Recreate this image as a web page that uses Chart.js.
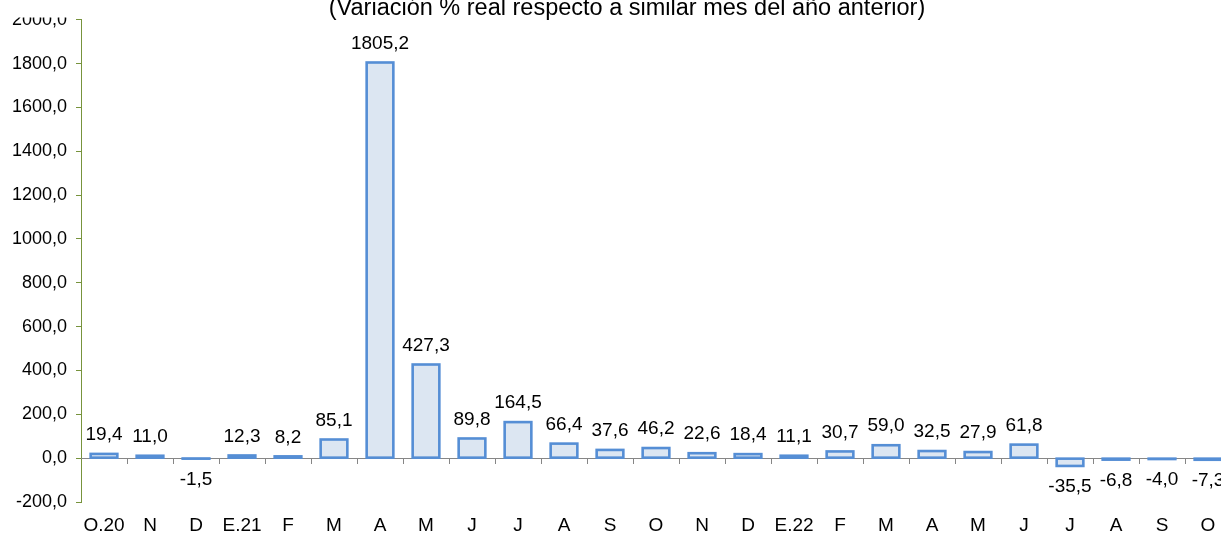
<!DOCTYPE html>
<html>
<head>
<meta charset="utf-8">
<script src="https://cdn.jsdelivr.net/npm/chart.js@4.4.1/dist/chart.umd.min.js"></script>
<style>
html,body{margin:0;padding:0;background:#fff;overflow:hidden;width:1221px;height:533px;}
#wrap{position:absolute;left:0;top:0;width:1240px;height:533px;}
</style>
</head>
<body>
<div id="wrap"><canvas id="c"></canvas></div>
<script>
const titleText = "(Variación % real respecto a similar mes del año anterior)";
const categories = ["O.20","N","D","E.21","F","M","A","M","J","J","A","S","O","N","D","E.22","F","M","A","M","J","J","A","S","O"];
const values = [19.4,11.0,-1.5,12.3,8.2,85.1,1805.2,427.3,89.8,164.5,66.4,37.6,46.2,22.6,18.4,11.1,30.7,59.0,32.5,27.9,61.8,-35.5,-6.8,-4.0,-7.3];
const yTicks = [-200,0,200,400,600,800,1000,1200,1400,1600,1800,2000];

const FONT = "'Liberation Sans', Arial, sans-serif";
const fmt = v => v.toFixed(1).replace('.', ',');

const barDecor = {
  id: 'barDecor',
  afterDatasetsDraw(chart) {
    const ctx = chart.ctx;
    const meta = chart.getDatasetMeta(0);
    const x = chart.scales.x, y = chart.scales.y;
    const y0 = y.getPixelForValue(0);
    ctx.save();
    ctx.strokeStyle = '#868686';
    ctx.lineWidth = 1;
    ctx.beginPath();
    ctx.moveTo(chart.chartArea.left, Math.round(y0) + 0.5);
    ctx.lineTo(chart.chartArea.right, Math.round(y0) + 0.5);
    ctx.stroke();
    for (let i = 1; i < categories.length; i++) {
      const bx = (x.getPixelForTick(i - 1) + x.getPixelForTick(i)) / 2;
      ctx.beginPath();
      ctx.moveTo(Math.round(bx) + 0.5, Math.round(y0));
      ctx.lineTo(Math.round(bx) + 0.5, Math.round(y0) + 6);
      ctx.stroke();
    }
    ctx.strokeStyle = '#558ED5';
    ctx.lineWidth = 2.6;
    ctx.lineJoin = 'miter';
    meta.data.forEach(el => {
      const p = el.getProps(['x','y','base','width'], true);
      const top = Math.min(p.y, p.base), h = Math.abs(p.base - p.y);
      ctx.strokeRect(p.x - p.width / 2, top, p.width, h);
    });
    ctx.fillStyle = '#000';
    ctx.font = '19px ' + FONT;
    ctx.textAlign = 'center';
    ctx.textBaseline = 'middle';
    meta.data.forEach((el, i) => {
      const v = values[i];
      const p = el.getProps(['x','y'], true);
      const ly = v >= 0 ? p.y - 19 : Math.max(p.y, y0) + 21;
      ctx.fillText(fmt(v), p.x, ly);
    });
    ctx.restore();
  },
  afterDraw(chart) {
    const ctx = chart.ctx;
    ctx.save();
    ctx.fillStyle = '#fff';
    ctx.fillRect(0, 0, 79, 17.5);
    ctx.fillStyle = '#000';
    ctx.font = '23.5px ' + FONT;
    ctx.textAlign = 'center';
    ctx.textBaseline = 'alphabetic';
    ctx.fillText(titleText, 627, 15);
    ctx.restore();
  }
};

new Chart(document.getElementById('c'), {
  type: 'bar',
  data: {
    labels: categories,
    datasets: [{
      data: values,
      backgroundColor: '#DCE6F2',
      borderWidth: 0,
      categoryPercentage: 1,
      barPercentage: 0.58
    }]
  },
  options: {
    responsive: true,
    maintainAspectRatio: false,
    animation: false,
    events: [],
    layout: { padding: { top: 16.5, right: 9, left: 0, bottom: 0 } },
    plugins: { legend: { display: false }, tooltip: { enabled: false }, title: { display: false } },
    scales: {
      x: {
        grid: { display: false, drawTicks: false },
        border: { display: false },
        ticks: { color: '#000', font: { family: FONT, size: 19 }, padding: 12, maxRotation: 0, autoSkip: false },
        afterFit(s) { s.height = 31; }
      },
      y: {
        min: -200, max: 2000,
        afterBuildTicks(s) { s.ticks = yTicks.map(v => ({ value: v })); },
        grid: { drawOnChartArea: false, drawTicks: true, tickLength: 5, color: '#77933C' },
        border: { display: true, color: '#77933C', width: 1 },
        ticks: { color: '#000', font: { family: FONT, size: 18 }, padding: 9, callback: v => fmt(v) },
        afterFit(s) { s.width = 81; }
      }
    }
  },
  plugins: [barDecor]
});
</script>
</body>
</html>
